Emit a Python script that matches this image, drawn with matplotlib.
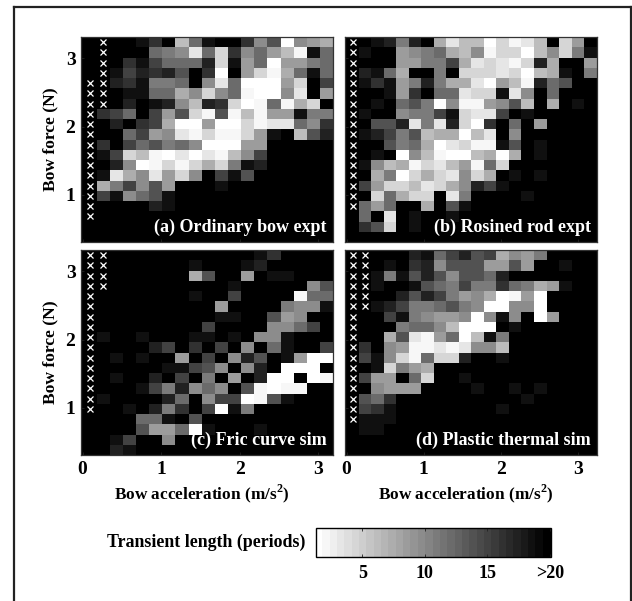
import numpy as np
import matplotlib
matplotlib.use("Agg")
import matplotlib.pyplot as plt
from matplotlib.lines import Line2D

plt.rcParams['font.family'] = ['Liberation Serif', 'DejaVu Serif']
plt.rcParams['font.weight'] = 'bold'
plt.rcParams['axes.labelweight'] = 'bold'
plt.rcParams['mathtext.fontset'] = 'custom'
plt.rcParams['mathtext.rm'] = 'Liberation Serif:bold'
plt.rcParams['mathtext.bf'] = 'Liberation Serif:bold'

# Brightness read per cell, hex digit 0 (black, >20 periods) to f (white, 1 period); top row first
panel_a = [
    "0000130b6100385f89a", "00000678d6c3869be16", "0003146662c196f9976", "0014232503f09cea616",
    "0023177608d6fff9c04", "0001166a8c86eff8d09", "00020128b23cfe6eac0", "03460495ce5ebe99177",
    "002034aff9ffcedd683", "0006498deceec910b52", "030465768fff9900000", "014cbefdfdeb8400000",
    "0028fececac71200000", "01da8d9c80415000000", "0a74859000100000000", "0418651000000000000",
    "0000021000000000000", "0000000000000000000", "0000000000000000000", "0000000000000000000",
]
panel_b = [
    "0012720adbbfcedb0c90", "01009876ab8eccfb8c71", "000099774adcdec2a009", "0216a0070cccdcfba107",
    "01319727aadf9be26500", "000193066dcc1d806000", "0010657f8ee985b0a010", "010087741cdd40100000",
    "00552d7d2cf306090000", "012475baafbd08000000", "000576afdcee15010000", "0010f8beffbafa010000",
    "018baecdb9e6c0000000", "00a7fcacd8ca01010000", "049ccbdca82410000000", "00c6acc0d70000100000",
    "069600a0510000000000", "060d0100100000000000", "035c0100000000000000", "00000000000000000000",
]
panel_c = [
    "0000000000000130000", "0000000010001200000", "00000000a5009011000", "0000000000010000085",
    "0000000010040000e66", "0000000000900007881", "0000000000110059800", "0000000004000088640",
    "0100100011010881000", "0000024030408061004", "00101009040825019ff", "000000114580820fff0",
    "00100204070902ff0fe", "0000147286805efee00", "010000260844fe51000", "0001027304f17000000",
    "0000661050000000000", "00005996f1000100000", "0014008000000000000", "0021000000000000000",
]
panel_d = [
    "000002164254a8970000", "00010328555995900100", "00171525855620000000", "001001567477367a9100",
    "00002524798afe9f0000", "00124776578ff88f0000", "0004178998f8180f9000", "00007668bfff01000000",
    "000a5de96fb170000000", "03089eeded88b0000000", "0418ce6cc20010000000", "001c79a0000000000000",
    "049906c0010000000000", "00899900001001010000", "05630000000000100000", "04310000000010000000",
    "01110000000000000000", "01100000000000000000", "00000000000000000000", "00000000000000000000",
]
panel_titles = ["(a) Ordinary bow expt", "(b) Rosined rod expt", "(c) Fric curve sim", "(d) Plastic thermal sim"]
# rows holding an "x" (not measured) mark in the first and second column of each panel
x_rows = [(range(4, 18), range(0, 7)), (range(0, 17), range(0, 0)), (range(0, 16), range(0, 4)), (range(0, 17), range(0, 6))]
x_ticks = [0, 1, 2, 3]
y_ticks = [1, 2, 3]
cbar_ticks = [5, 10, 15, 20]
cbar_labels = ["5", "10", "15", ">20"]

W, H = 632, 601


def to_length(rows):
    levels = np.array([[int(c, 16) for c in r] for r in rows], float)
    return 20 - levels * 19 / 15


def make_axes(l, t, r, b):
    return fig.add_axes([l / W, 1 - b / H, (r - l) / W, (b - t) / H])


fig = plt.figure(figsize=(W / 100, H / 100), dpi=100)
cmap = plt.get_cmap('gray_r').resampled(32)
boxes = [(81, 37, 333, 242), (345, 37, 597, 242), (81, 250, 333, 455), (345, 250, 597, 455)]
starts = [0.01, -0.002, 0.01, -0.002]
steps = [0.1675, 0.1623, 0.1675, 0.1623]
xlims = [(-0.02, 3.19), (-0.02, 3.25), (-0.02, 3.19), (-0.02, 3.25)]
ylim = (0.31, 3.31)
im = None
for i, rows in enumerate([panel_a, panel_b, panel_c, panel_d]):
    ax = make_axes(*boxes[i])
    ax.set_facecolor('black')
    Z = to_length(rows)
    ny, nx = Z.shape
    xe = starts[i] + steps[i] * np.arange(nx + 1)
    ye = np.linspace(ylim[1], ylim[0], ny + 1)
    im = ax.pcolormesh(xe, ye, Z, cmap=cmap, vmin=1.3, vmax=20.1, shading='flat')
    xc = 0.5 * (xe[:-1] + xe[1:])
    yc = 0.5 * (ye[:-1] + ye[1:])
    for col, rr in enumerate(x_rows[i]):
        for r in rr:
            ax.plot(xc[col], yc[r], 'x', color='white', ms=4.5, mew=0.9)
    ax.set_xlim(*xlims[i])
    ax.set_ylim(*ylim)
    ax.set_xticks(x_ticks)
    ax.set_yticks(y_ticks)
    ax.tick_params(direction='in', length=2.5, width=0.6, color='#222222', labelsize=14, pad=4)
    for s in ax.spines.values():
        s.set_color('#333333')
        s.set_linewidth(0.9)
    if i >= 2:
        ax.set_xlabel(r"Bow acceleration (m/s$^{2}$)", fontsize=12.4, labelpad=3.5, x=0.48)
    else:
        ax.set_xticklabels([])
    if i % 2 == 0:
        ax.set_ylabel("Bow force (N)", fontsize=12.6, labelpad=5)
    else:
        ax.set_yticklabels([])
    ax.text(0.975, 0.03, panel_titles[i], transform=ax.transAxes, color='white',
            ha='right', va='bottom', fontsize=13)

cax = make_axes(316, 528, 551, 557)
cb = fig.colorbar(im, cax=cax, orientation='horizontal', ticks=cbar_ticks)
cb.ax.set_xticklabels(cbar_labels)
cb.ax.tick_params(direction='in', length=2, width=0.6, labelsize=13, pad=6, top=True, color='#222222')
cb.outline.set_linewidth(1.0)
cb.solids.set_edgecolor('face')
fig.text(305 / W, 1 - 542 / H, "Transient length (periods)", ha='right', va='center', fontsize=12.9)

for xs, ys in [((14, 14), (7, 601)), ((14, 631), (7, 7)), ((631, 631), (7, 601))]:
    fig.add_artist(Line2D([v / W for v in xs], [1 - v / H for v in ys], color='#222222', lw=1.6))

fig.savefig("out.png", dpi=100)
